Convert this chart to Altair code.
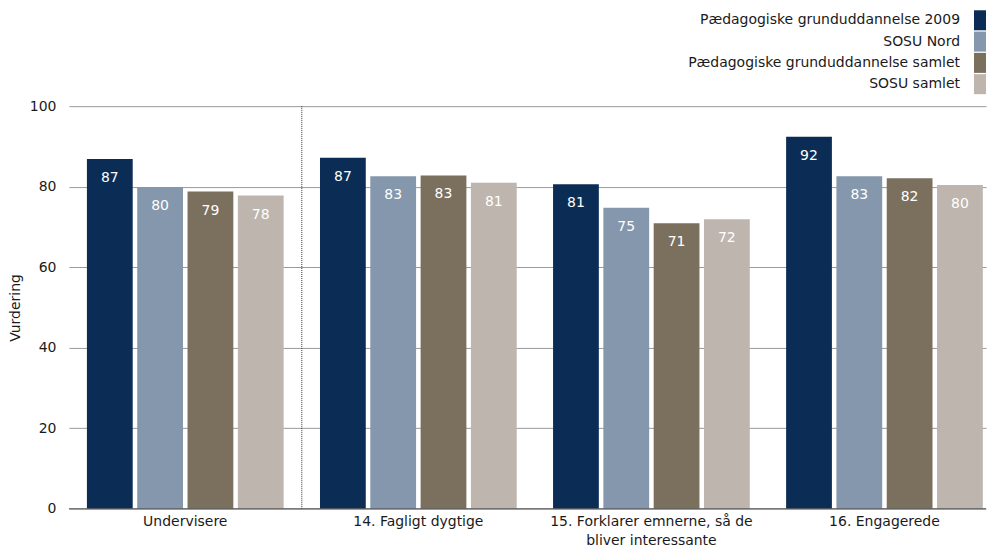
import altair as alt
import pandas as pd

categories = [
    "Undervisere",
    "14. Fagligt dygtige",
    "15. Forklarer emnerne, så de|bliver interessante",
    "16. Engagerede",
]
series = [
    "Pædagogiske grunduddannelse 2009",
    "SOSU Nord",
    "Pædagogiske grunduddannelse samlet",
    "SOSU samlet",
]
colors = ["#0B2D55", "#8497AC", "#7B6F5E", "#BDB5AE"]

values_p2009 = [86.9, 87.2, 80.6, 92.4]
values_sosu_nord = [79.9, 82.6, 74.8, 82.6]
values_p_samlet = [78.8, 82.8, 70.9, 82.1]
values_sosu_samlet = [77.8, 81.0, 71.9, 80.4]

y_ticks = [0, 20, 40, 60, 80, 100]

all_values = [values_p2009, values_sosu_nord, values_p_samlet, values_sosu_samlet]
rows = []
for s, vals in zip(series, all_values):
    for c, v in zip(categories, vals):
        rows.append({"Kategori": c, "Serie": s, "Vurdering": v})
df = pd.DataFrame(rows)

FONT = "DejaVu Sans"
FS = 14
W = 918
H = 403
color_scale = alt.Scale(domain=series, range=colors)

x_enc = alt.X(
    "Kategori:N",
    sort=categories,
    scale=alt.Scale(paddingInner=0.156, paddingOuter=0.0454, align=0.85),
    axis=alt.Axis(
        title=None,
        labelAngle=0,
        ticks=False,
        domain=False,
        grid=False,
        labelPadding=6,
        labelFontSize=FS,
        labelColor="#1a1a1a",
        labelLineHeight=19,
        labelLimit=500,
        labelExpr="split(datum.label, '|')",
    ),
)

base = alt.Chart(df).encode(
    x=x_enc,
    xOffset=alt.XOffset(
        "Serie:N", sort=series, scale=alt.Scale(paddingInner=0.09, paddingOuter=0)
    ),
    y=alt.Y(
        "Vurdering:Q",
        scale=alt.Scale(domain=[0, 100]),
        axis=alt.Axis(
            values=y_ticks,
            grid=True,
            gridColor="#9a9a9a",
            gridWidth=1,
            ticks=False,
            domain=False,
            labelPadding=13,
            labelFontSize=FS,
            labelColor="#1a1a1a",
            title="Vurdering",
            titleFontSize=FS,
            titleFontWeight="normal",
            titleColor="#1a1a1a",
            titlePadding=7,
        ),
    ),
)

bars = base.mark_bar().encode(
    color=alt.Color("Serie:N", scale=color_scale, legend=None)
)
labels = base.mark_text(
    baseline="middle", dy=19, color="white", fontSize=FS
).encode(text=alt.Text("Vurdering:Q", format=".0f"))

sep = (
    alt.Chart(pd.DataFrame({"Kategori": [categories[1]]}))
    .mark_rule(xOffset=-18.2, strokeDash=[1, 1], color="#333333", strokeWidth=1)
    .encode(x=alt.X("Kategori:N", sort=categories, bandPosition=0))
)

baseline = (
    alt.Chart(pd.DataFrame({"v": [0]}))
    .mark_rule(color="#555555", strokeWidth=1)
    .encode(y=alt.Y("v:Q"))
)

main = alt.layer(bars, labels, sep, baseline).properties(width=W, height=H)

legend_df = pd.DataFrame({"Serie": series})
lbase = alt.Chart(legend_df).encode(
    y=alt.Y(
        "Serie:N",
        sort=series,
        axis=None,
        scale=alt.Scale(paddingInner=0.06, paddingOuter=0.094),
    )
)
lrect = lbase.mark_rect().encode(
    x=alt.value(906),
    x2=alt.value(918),
    color=alt.Color("Serie:N", scale=color_scale, legend=None),
)
ltext = lbase.mark_text(
    align="right", baseline="middle", fontSize=FS, color="#1a1a1a"
).encode(x=alt.value(892), text="Serie:N")
legend = alt.layer(lrect, ltext).properties(width=W, height=88)

chart = (
    alt.vconcat(legend, main, spacing=10, bounds="flush")
    .properties(padding=0)
    .configure(font=FONT)
    .configure_view(strokeWidth=0)
)

chart.save("out.html", embed_options={"renderer": "svg", "actions": False})
